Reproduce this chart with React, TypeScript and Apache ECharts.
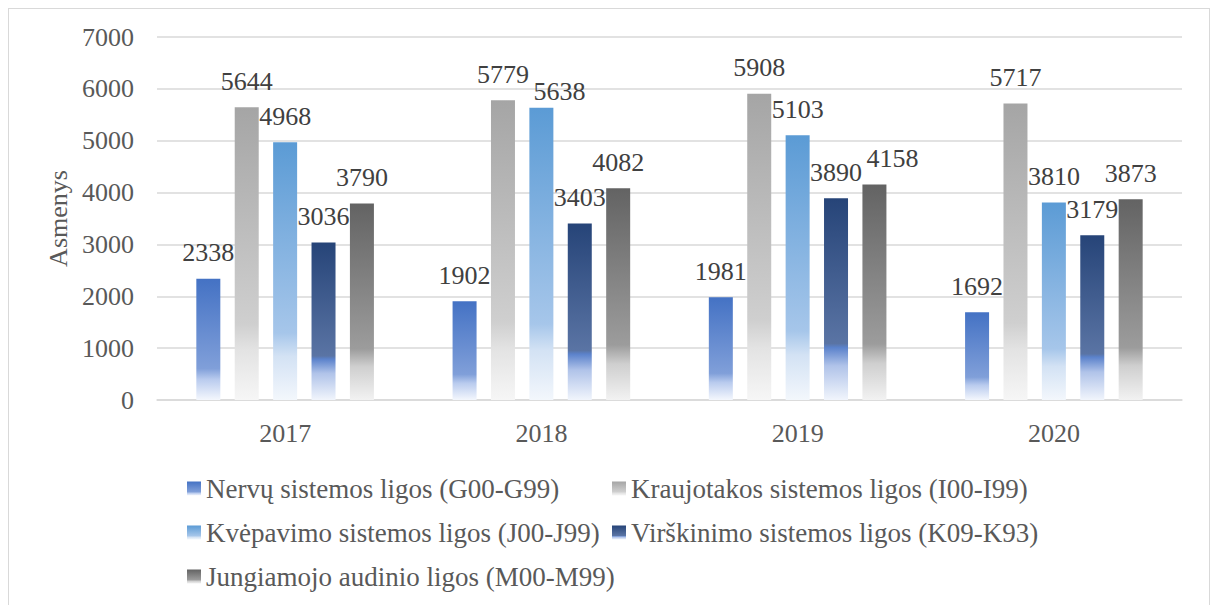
import React, { useEffect, useRef } from "react";
import * as echarts from "echarts";

const categories = ["2017", "2018", "2019", "2020"];
const seriesNames = [
  "Nervų sistemos ligos (G00-G99)",
  "Kraujotakos sistemos ligos (I00-I99)",
  "Kvėpavimo sistemos ligos (J00-J99)",
  "Virškinimo sistemos ligos (K09-K93)",
  "Jungiamojo audinio ligos (M00-M99)",
];
const nervu = [2338, 1902, 1981, 1692];
const kraujotakos = [5644, 5779, 5908, 5717];
const kvepavimo = [4968, 5638, 5103, 3810];
const virskinimo = [3036, 3403, 3890, 3179];
const jungiamojo = [3790, 4082, 4158, 3873];
const yTicks = { min: 0, max: 7000, interval: 1000 };

// label nudges seen in the reference: [seriesIndex, categoryIndex, dx, dy]
const labelNudges: [number, number, number, number][] = [
  [2, 1, 18, 10],
  [4, 2, 18, 0],
];

const gradientStops: [number, string][][] = [
  [[0, "#4472C4"], [0.74, "#809fd9"], [0.83, "#b9cbee"], [1, "#f4f7fd"]],
  [[0, "#A5A5A5"], [0.74, "#cfcfcf"], [0.83, "#e3e3e3"], [1, "#f6f6f6"]],
  [[0, "#5B9BD5"], [0.74, "#a6c6ea"], [0.83, "#d3e2f4"], [1, "#f3f7fc"]],
  [[0, "#264478"], [0.72, "#5a74a4"], [0.74, "#5b82cb"], [0.83, "#b0c3e9"], [1, "#f1f5fc"]],
  [[0, "#636363"], [0.74, "#9c9c9c"], [0.83, "#cfcfcf"], [1, "#f2f2f2"]],
];

const FONT = "Times New Roman, Liberation Serif, DejaVu Serif, serif";

export default function App() {
  const ref = useRef<HTMLDivElement>(null);
  useEffect(() => {
    if (!ref.current) return;
    const chart = echarts.init(ref.current, undefined, { renderer: "svg" });
    const data = [nervu, kraujotakos, kvepavimo, virskinimo, jungiamojo];
    const grad = (i: number) =>
      new echarts.graphic.LinearGradient(
        0, 0, 0, 1,
        gradientStops[i].map(([offset, color]) => ({ offset, color }))
      );
    const legendCommon = {
      orient: "vertical" as const,
      itemWidth: 14,
      itemHeight: 14,
      itemGap: 17,
      icon: "rect",
      top: 461,
      textStyle: { fontFamily: FONT, fontSize: 27, color: "#595959" },
    };
    chart.setOption({
      animation: false,
      textStyle: { fontFamily: FONT },
      legend: [
        { ...legendCommon, left: 173, data: [seriesNames[0], seriesNames[2], seriesNames[4]] },
        { ...legendCommon, left: 598, data: [seriesNames[1], seriesNames[3]] },
      ],
      grid: { left: 148, top: 28, width: 1025, height: 363 },
      xAxis: {
        type: "category",
        data: categories,
        axisLine: { lineStyle: { color: "#d9d9d9", width: 1.5 } },
        axisTick: { show: false },
        axisLabel: { fontFamily: FONT, fontSize: 26, color: "#595959", margin: 20 },
      },
      yAxis: {
        type: "value",
        min: yTicks.min,
        max: yTicks.max,
        interval: yTicks.interval,
        name: "Asmenys",
        nameLocation: "middle",
        nameGap: 85,
        nameRotate: 90,
        nameTextStyle: { fontFamily: FONT, fontSize: 26, color: "#595959" },
        axisLine: { show: false },
        axisTick: { show: false },
        axisLabel: {
          fontFamily: FONT,
          fontSize: 26,
          color: "#595959",
          margin: 23,
          formatter: (v: number) => String(v),
        },
        splitLine: { lineStyle: { color: "#d9d9d9", width: 1.5 } },
      },
      series: seriesNames.map((name, i) => ({
        name,
        type: "bar",
        data: data[i].map((v, j) => {
          const n = labelNudges.find((x) => x[0] === i && x[1] === j);
          return n ? { value: v, label: { offset: [n[2], n[3]] } } : v;
        }),
        barWidth: 24,
        barGap: "60%",
        itemStyle: { color: grad(i) },
        label: {
          show: true,
          position: "top",
          distance: 13,
          fontFamily: FONT,
          fontSize: 26,
          color: "#404040",
        },
      })),
    });
    return () => chart.dispose();
  }, []);
  return (
    <div style={{ width: 1200, height: 610, border: "1.5px solid #d9d9d9" }}>
      <div ref={ref} style={{ width: 1200, height: 610 }} />
    </div>
  );
}
